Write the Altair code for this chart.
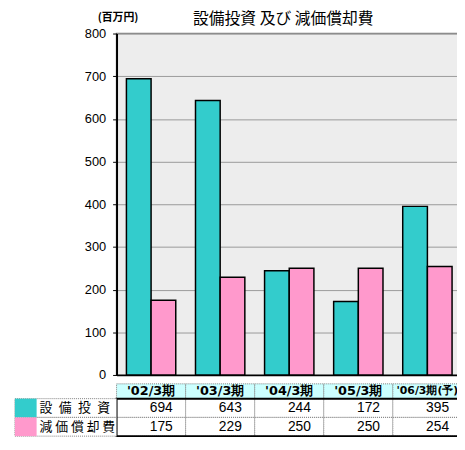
import altair as alt
import pandas as pd

categories = ["'02/3期", "'03/3期", "'04/3期", "'05/3期", "'06/3期(予)"]
header_sizes = [13, 13, 13, 13, 11]
series = ["設備投資", "減価償却費"]
row_labels = ["設\u2002備\u2002投\u2002資", "減 価 償 却 費"]
capex = [694, 643, 244, 172, 395]
depreciation = [175, 229, 250, 250, 254]
colors = ["#33CCCC", "#FF99CC"]
y_ticks = [0, 100, 200, 300, 400, 500, 600, 700, 800]

rows = []
for s, vals in zip(series, [capex, depreciation]):
    for c, v in zip(categories, vals):
        rows.append({"category": c, "series": s, "value": v})
df = pd.DataFrame(rows)
hdr = pd.DataFrame({"category": categories, "row": ["header"] * len(categories), "size": header_sizes})
leg = pd.DataFrame({"series": series, "label": row_labels})
frame_df = pd.DataFrame({"a": [categories[0]], "b": [categories[-1]], "r1": [series[0]], "r2": [series[-1]]})

W, H = 350, 346
CJK = "Noto Sans CJK JP"

x_scale = alt.Scale(domain=categories, paddingInner=0, paddingOuter=0)
color_scale = alt.Scale(domain=series, range=colors)
hdr_y_scale = alt.Scale(domain=["header"], range=[355, 370])
data_y_scale = alt.Scale(domain=series, range=[370, 408])

X = lambda **kw: alt.X("category:N", scale=x_scale, sort=categories, **kw)

bars = alt.Chart(df).mark_bar(stroke="black", strokeWidth=1.5).encode(
    x=X(axis=alt.Axis(title=None, labels=False, ticks=False, domain=True,
                      domainColor="black", domainWidth=1.5, grid=False)),
    xOffset=alt.XOffset("series:N", scale=alt.Scale(domain=series, paddingInner=0, paddingOuter=0.4), sort=series),
    y=alt.Y("value:Q", scale=alt.Scale(domain=[0, 800], nice=False),
            axis=alt.Axis(values=y_ticks, title="(百万円)", titleAngle=0, titleX=1, titleY=-16,
                          titleAlign="center", titleBaseline="middle", titleFont=CJK,
                          titleFontSize=11, titleFontWeight="bold", titleColor="black",
                          labelFont="Liberation Sans", labelFontSize=13, labelColor="black",
                          tickSize=4, tickColor="black", labelPadding=7,
                          domainColor="black", domainWidth=2,
                          gridColor="#999999", gridWidth=1)),
    color=alt.Color("series:N", scale=color_scale, legend=None),
)

hdr_rect = alt.Chart(hdr).mark_rect(fill="#CCFFFF", stroke="#808080", strokeDash=[1, 1], strokeWidth=1).encode(
    x=X(), y=alt.Y("row:N", scale=hdr_y_scale, axis=None))
hdr_text = alt.Chart(hdr).mark_text(font="DejaVu Sans", fontWeight="bold", color="black", baseline="middle").encode(
    x=X(), y=alt.Y("row:N", scale=hdr_y_scale, axis=None), text="category:N",
    size=alt.Size("size:Q", scale=None, legend=None))

cells = alt.Chart(df).mark_rect(fill="white", stroke="#808080", strokeDash=[1, 1], strokeWidth=1).encode(
    x=X(), y=alt.Y("series:N", scale=data_y_scale, sort=series, axis=None))
vals_text = alt.Chart(df).mark_text(align="right", dx=-13, font="Liberation Sans", fontSize=14,
                                    baseline="middle", color="black").encode(
    x=X(bandPosition=1), y=alt.Y("series:N", scale=data_y_scale, sort=series, axis=None),
    text="value:Q")

frame = alt.Chart(frame_df).mark_rect(fillOpacity=0, stroke="black", strokeWidth=2).encode(
    x=alt.X("a:N", scale=x_scale, bandPosition=0), x2=alt.X2("b:N", bandPosition=1),
    y=alt.Y("r1:N", scale=data_y_scale, bandPosition=0, axis=None), y2=alt.Y2("r2:N", bandPosition=1))

leg_cells = alt.Chart(leg).mark_rect(fill="white", stroke="#808080", strokeDash=[1, 1], strokeWidth=1).encode(
    x=alt.value(-103), x2=alt.value(0), y=alt.Y("series:N", scale=data_y_scale, sort=series, axis=None))
swatches = alt.Chart(leg).mark_rect().encode(
    x=alt.value(-103), x2=alt.value(-81), y=alt.Y("series:N", scale=data_y_scale, sort=series, axis=None),
    color=alt.Color("series:N", scale=color_scale, legend=None))
leg_text = alt.Chart(leg).mark_text(align="left", font=CJK, fontSize=13, baseline="middle", color="black").encode(
    x=alt.value(-78), y=alt.Y("series:N", scale=data_y_scale, sort=series, axis=None), text="label:N")

chart = alt.layer(bars, hdr_rect, hdr_text, cells, vals_text, frame, leg_cells, swatches, leg_text).resolve_scale(
    y="independent"
).properties(
    width=W, height=H,
    padding={"left": 110, "top": 23, "right": -5, "bottom": 60},
    autosize=alt.AutoSizeParams(type="none"),
    title=alt.Title("設備投資 及び 減価償却費", font=CJK, fontSize=16, fontWeight="normal",
                    color="black", offset=-15, anchor="middle", dx=-6, frame="group"),
).configure_view(fill="#EDEDED", stroke="#808080", strokeWidth=1.5)

chart.save("out.html", embed_options={"renderer": "svg", "actions": False})
